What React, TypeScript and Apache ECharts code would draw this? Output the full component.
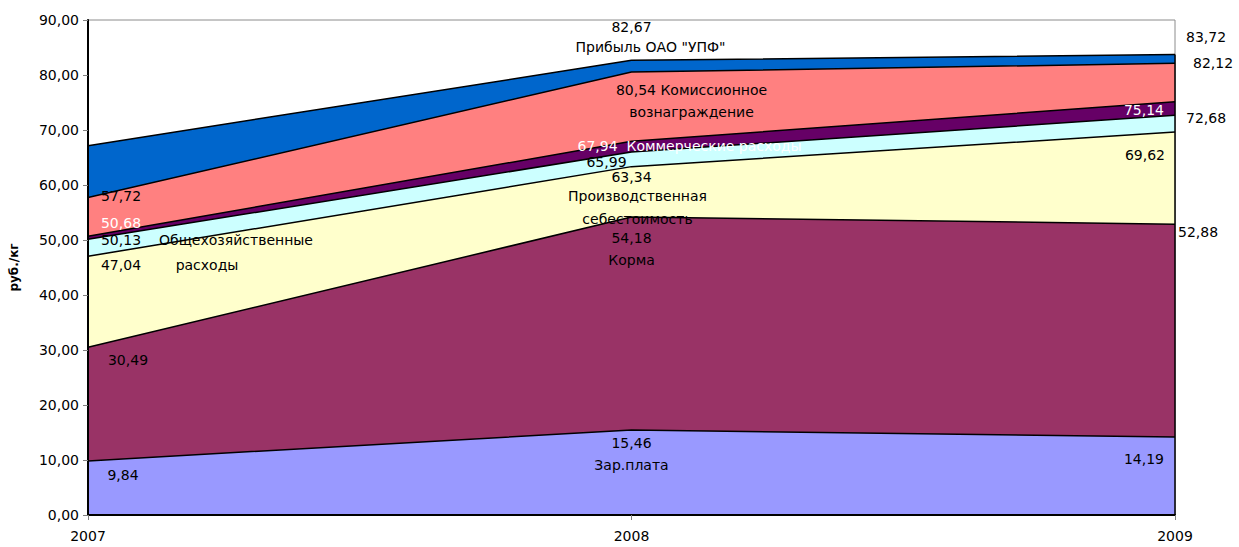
import React, { useEffect, useRef } from "react";
import * as echarts from "echarts";

const years = ["2007", "2008", "2009"];
const yTicks = { min: 0, max: 90, interval: 10 };

// cumulative (stacked top) values, as labelled on the chart
const salary = [9.84, 15.46, 14.19];
const feed = [30.49, 54.18, 52.88];
const production = [47.04, 63.34, 69.62];
const overhead = [50.13, 65.99, 72.68];
const commercial = [50.68, 67.94, 75.14];
const commission = [57.72, 80.54, 82.12];
const profit = [67.15, 82.67, 83.72];

const names = {
  salary: "Зар.плата",
  feed: "Корма",
  production: "Производственная\nсебестоимость",
  overhead1: "Общехозяйственные",
  overhead2: "расходы",
  commercial: "Коммерческие расходы",
  commission1: "Комиссионное",
  commission2: "вознаграждение",
  profit: 'Прибыль ОАО "УПФ"',
};

const fmt = (v: number) => v.toFixed(2).replace(".", ",");

const FONT = "DejaVu Sans, Verdana, sans-serif";
const FS = 14;

type LblCfg = null | { dx: number; dy: number; align?: string; color?: string; text?: (v: number) => string; lh?: number };

function mkData(vals: number[], cfgs: LblCfg[]) {
  return vals.map((v, i) => {
    const c = cfgs[i];
    if (!c) return { value: v, label: { show: false } };
    return {
      value: v,
      label: {
        show: true,
        position: "inside",
        offset: [c.dx, c.dy],
        align: c.align || "center",
        verticalAlign: "middle",
        color: c.color || "#000",
        fontFamily: FONT,
        fontSize: FS,
        lineHeight: c.lh || 15,
        formatter: () => (c.text ? c.text(v) : fmt(v)),
      },
    };
  });
}

function mkNames(items: { idx: number; val: number; text: string; dx: number; dy: number; align?: string; lh?: number; color?: string }[]) {
  return {
    symbol: "circle",
    symbolSize: 0,
    silent: true,
    data: items.map((it) => ({
      coord: [it.idx, it.val],
      label: {
        show: true,
        position: "inside",
        offset: [it.dx, it.dy],
        align: it.align || "center",
        verticalAlign: "middle",
        color: it.color || "#000",
        fontFamily: FONT,
        fontSize: FS,
        lineHeight: it.lh || 15,
        formatter: it.text,
      },
    })),
  };
}

function areaSeries(name: string, color: string, data: any[], extra: any = {}) {
  return {
    name,
    type: "line",
    data,
    symbol: "circle",
    symbolSize: 0,
    showSymbol: true,
    itemStyle: { color: "#000" },
    lineStyle: { color: "#000", width: 1.5 },
    areaStyle: { color, opacity: 1 },
    emphasis: { disabled: true },
    ...extra,
  };
}

export default function App() {
  const ref = useRef<HTMLDivElement>(null);
  useEffect(() => {
    const chart = echarts.init(ref.current!, null, { renderer: "svg" });
    const option: any = {
      animation: false,
      backgroundColor: "#fff",
      textStyle: { fontFamily: FONT },
      grid: {
        left: 88,
        right: 64,
        top: 20,
        bottom: 32,
        containLabel: false,
        outerBoundsMode: "none",
        show: true,
        borderColor: "#8c8c8c",
        borderWidth: 1,
        backgroundColor: "#fff",
      },
      xAxis: {
        type: "category",
        data: years,
        boundaryGap: false,
        axisLine: { lineStyle: { color: "#000", width: 2 } },
        axisTick: { show: true, length: 5, lineStyle: { color: "#808080" } },
        axisLabel: { color: "#000", fontSize: FS, fontFamily: FONT, margin: 14 },
        splitLine: { show: false },
        z: 10,
      },
      yAxis: {
        type: "value",
        min: yTicks.min,
        max: yTicks.max,
        interval: yTicks.interval,
        name: "руб./кг",
        nameLocation: "middle",
        nameGap: 68,
        nameRotate: 90,
        nameTextStyle: { color: "#000", fontWeight: "bold", fontSize: 12, fontFamily: FONT },
        axisLine: { show: true, lineStyle: { color: "#000", width: 2 } },
        axisTick: { show: true, length: 5, lineStyle: { color: "#808080" } },
        axisLabel: { color: "#000", fontSize: FS, fontFamily: FONT, margin: 9, formatter: (v: number) => fmt(v) },
        splitLine: { show: false },
        z: 10,
      },
      series: [
        areaSeries(
          "Прибыль",
          "#0066CC",
          mkData(profit, [null, { dx: 0, dy: -33 }, { dx: 11, dy: -18, align: "left" }]),
          {
            markPoint: mkNames([{ idx: 1, val: profit[1], text: names.profit, dx: 19, dy: -13 }]),
            markLine: {
              silent: true,
              symbol: "none",
              label: { show: false },
              lineStyle: { color: "#000", width: 1.5, type: "solid" },
              data: [[{ coord: [2, 0] }, { coord: [2, profit[2]] }]],
            },
          }
        ),
        areaSeries(
          "Комиссионное",
          "#FF8080",
          mkData(commission, [
            { dx: 33, dy: -2 },
            { dx: 60, dy: 29, lh: 22, text: (v) => fmt(v) + " " + names.commission1 + "\n" + names.commission2 },
            { dx: 18, dy: 0, align: "left" },
          ])
        ),
        areaSeries(
          "Коммерческие",
          "#660066",
          mkData(commercial, [
            { dx: 33, dy: -13, color: "#fff" },
            { dx: -54, dy: 5, align: "left", color: "#fff", text: (v) => fmt(v) + "  " + names.commercial },
            { dx: -11, dy: 8, align: "right", color: "#fff" },
          ])
        ),
        areaSeries(
          "Общехозяйственные",
          "#CCFFFF",
          mkData(overhead, [
            { dx: 33, dy: 1 },
            { dx: -25, dy: 10 },
            { dx: 11, dy: 3, align: "left" },
          ]),
          {
            markPoint: mkNames([
              { idx: 0, val: overhead[0], text: names.overhead1, dx: 148, dy: 1 },
              { idx: 0, val: overhead[0], text: names.overhead2, dx: 119, dy: 26 },
            ]),
          }
        ),
        areaSeries(
          "Производственная",
          "#FFFFCC",
          mkData(production, [
            { dx: 33, dy: 9 },
            { dx: 0, dy: 10 },
            { dx: -10, dy: 23, align: "right" },
          ]),
          {
            markPoint: mkNames([{ idx: 1, val: production[1], text: names.production, dx: 6, dy: 41, lh: 23 }]),
          }
        ),
        areaSeries(
          "Корма",
          "#993366",
          mkData(feed, [
            { dx: 40, dy: 13 },
            { dx: 0, dy: 21 },
            { dx: 3, dy: 8, align: "left" },
          ]),
          {
            markPoint: mkNames([{ idx: 1, val: feed[1], text: names.feed, dx: 0, dy: 43 }]),
          }
        ),
        areaSeries(
          "Зар.плата",
          "#9999FF",
          mkData(salary, [
            { dx: 35, dy: 14 },
            { dx: 0, dy: 13 },
            { dx: -11, dy: 22, align: "right" },
          ]),
          {
            markPoint: mkNames([{ idx: 1, val: salary[1], text: names.salary, dx: 0, dy: 35 }]),
          }
        ),
      ],
    };
    chart.setOption(option);
    return () => chart.dispose();
  }, []);
  return (
    <div
      ref={ref}
      style={{ position: "absolute", left: 0, top: 0, width: 1239, height: 547 }}
    />
  );
}
